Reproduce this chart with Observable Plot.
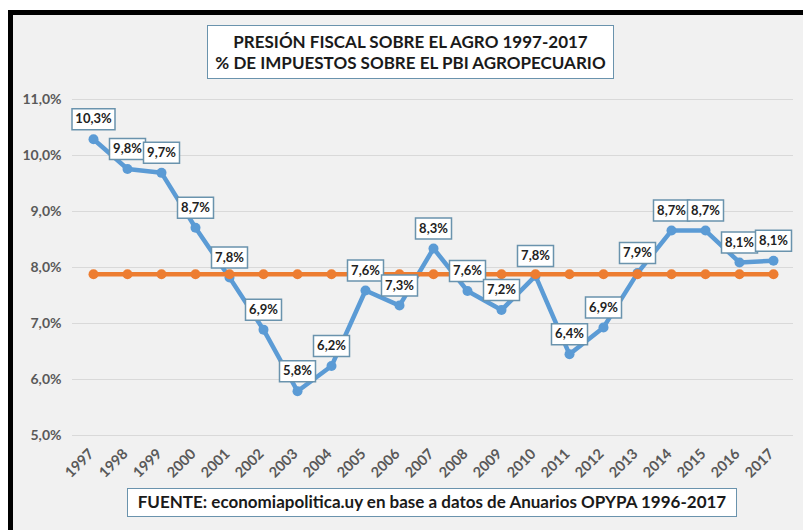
<!DOCTYPE html>
<html>
<head>
<meta charset="utf-8">
<script src="https://cdn.jsdelivr.net/npm/d3@7"></script>
<script src="https://cdn.jsdelivr.net/npm/@observablehq/plot@0.6"></script>
<style>
  html, body { margin: 0; padding: 0; background: #ffffff; width: 803px; height: 530px; overflow: hidden; }
  #frame { position: absolute; left: 8px; top: 10px; width: 810px; height: 540px; box-sizing: border-box;
           border-left: 5px solid #000; border-top: 5px solid #000; background: #f1f1f1; }
  .box { position: absolute; background: #fff; border: 1.5px solid #6a93ad; box-sizing: border-box;
         font-family: Lato, "Open Sans", sans-serif; font-weight: 700; color: #1a1a1a; text-align: center; }
  #title { left: 207px; top: 25px; width: 407px; height: 54px; font-size: 17px; line-height: 21px; padding-top: 5px; }
  #caption { left: 127px; top: 488px; width: 610px; height: 29px; font-size: 17px; line-height: 26px; }
  #chart { position: absolute; left: 13px; top: 84px; }
</style>
</head>
<body>
<div id="frame"></div>
<div id="title" class="box">PRESIÓN FISCAL SOBRE EL AGRO 1997-2017<br>% DE IMPUESTOS SOBRE EL PBI AGROPECUARIO</div>
<div id="chart"></div>
<div id="caption" class="box">FUENTE: economiapolitica.uy en base a datos de Anuarios OPYPA 1996-2017</div>
<script>
const years = [1997,1998,1999,2000,2001,2002,2003,2004,2005,2006,2007,2008,2009,2010,2011,2012,2013,2014,2015,2016,2017];
const presion = [10.29,9.76,9.69,8.71,7.82,6.89,5.79,6.24,7.59,7.32,8.34,7.58,7.24,7.85,6.45,6.93,7.90,8.66,8.66,8.09,8.12];
const labels = ["10,3%","9,8%","9,7%","8,7%","7,8%","6,9%","5,8%","6,2%","7,6%","7,3%","8,3%","7,6%","7,2%","7,8%","6,4%","6,9%","7,9%","8,7%","8,7%","8,1%","8,1%"];
const promedio = [7.88,7.88,7.88,7.88,7.88,7.88,7.88,7.88,7.88,7.88,7.88,7.88,7.88,7.88,7.88,7.88,7.88,7.88,7.88,7.88,7.88];
const yTicks = [5,6,7,8,9,10,11];

const blue = years.map((year, i) => ({year, value: presion[i], label: labels[i]}));
const orange = years.map((year, i) => ({year, value: promedio[i]}));

const boxSymbol = (w, h) => ({draw(ctx) { ctx.rect(-w / 2, -h / 2, w, h); }});

const chart = Plot.plot({
  width: 790,
  height: 400,
  marginTop: 15,
  marginBottom: 49,
  marginLeft: 59,
  marginRight: 10,
  style: {background: "transparent", color: "#595959", fontFamily: "Lato, 'Open Sans', sans-serif"},
  x: {type: "point", domain: years, padding: 0.57},
  y: {domain: [5, 11]},
  marks: [
    Plot.ruleY(yTicks, {stroke: "#d9d9d9", strokeWidth: 1.2}),
    Plot.axisY(yTicks, {tickSize: 0, tickPadding: 11, fontSize: 14, fontWeight: 700,
      tickFormat: d => d.toFixed(1).replace(".", ",") + "%", label: null}),
    Plot.axisX(years, {tickSize: 0, tickPadding: 16, dx: -2, tickRotate: -45, fontSize: 14.5, fontWeight: 700, label: null, tickFormat: d => String(d)}),
    Plot.line(blue, {x: "year", y: "value", stroke: "#5b9bd5", strokeWidth: 4.5}),
    Plot.dot(blue, {x: "year", y: "value", r: 5, fill: "#5b9bd5"}),
    Plot.line(orange, {x: "year", y: "value", stroke: "#ed7d31", strokeWidth: 4.5}),
    Plot.dot(orange, {x: "year", y: "value", r: 5, fill: "#ed7d31"}),
    Plot.dot(blue.filter(d => d.label.length > 4), {x: "year", y: "value", dy: -20, symbol: boxSymbol(43, 21), r: 10, fill: "#ffffff", stroke: "#6a93ad", strokeWidth: 1.5}),
    Plot.dot(blue.filter(d => d.label.length <= 4), {x: "year", y: "value", dy: -20, symbol: boxSymbol(36, 21), r: 10, fill: "#ffffff", stroke: "#6a93ad", strokeWidth: 1.5}),
    Plot.text(blue, {x: "year", y: "value", text: "label", dy: -20, fontSize: 13, fontWeight: 700, fill: "#222"})
  ]
});
document.getElementById("chart").appendChild(chart);
</script>
</body>
</html>
